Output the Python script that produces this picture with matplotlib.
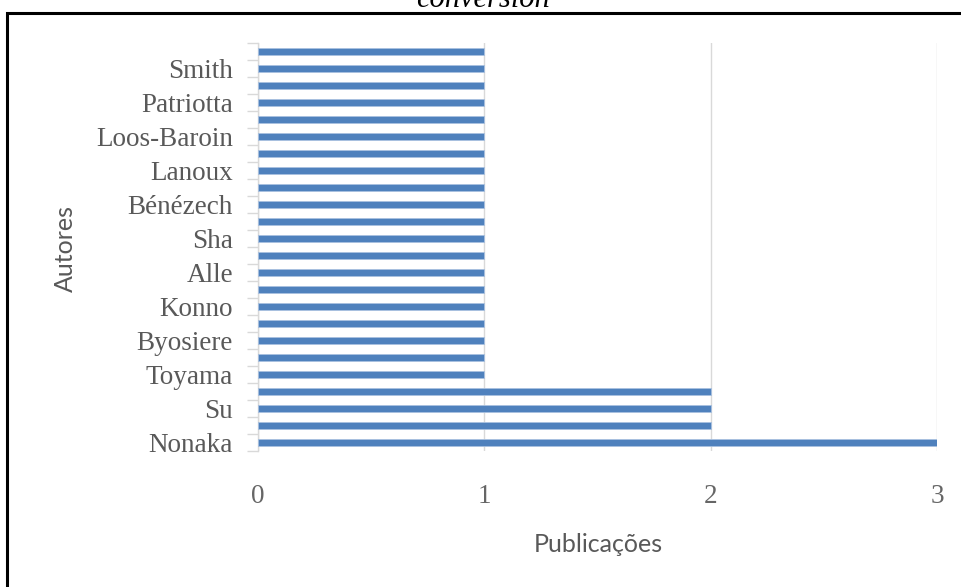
import matplotlib
matplotlib.use("Agg")
import matplotlib.pyplot as plt
from matplotlib.patches import Rectangle
import numpy as np

# Data (bottom to top)
authors = ["Nonaka", "", "Su", "", "Toyama", "", "Byosiere", "", "Konno", "",
           "Alle", "", "Sha", "", "Bénézech", "", "Lanoux", "", "Loos-Baroin", "",
           "Patriotta", "", "Smith", ""]
publications = [3, 2, 2, 2, 1, 1, 1, 1, 1, 1, 1, 1, 1, 1, 1, 1, 1, 1, 1, 1, 1, 1, 1, 1]
x_ticks = [0, 1, 2, 3]

W, H = 961, 587
fig = plt.figure(figsize=(W / 100, H / 100), dpi=100)
fig.patch.set_facecolor("white")

ax = fig.add_axes([258 / W, 1 - 451 / H, (937 - 258) / W, (451 - 43) / H])
pos = np.arange(len(authors))
ax.barh(pos, publications, height=0.38, color="#4F81BD", edgecolor="#A9C1E0",
        linewidth=0.6, zorder=3)

ax.set_xlim(0, 3)
ax.set_ylim(-0.5, len(authors) - 0.5)
ax.set_xticks(x_ticks)
ax.set_xticklabels([str(t) for t in x_ticks], family="Liberation Serif",
                   fontsize=19.5, color="#666666")
ax.tick_params(axis="x", length=0, pad=24)
ax.grid(axis="x", color="#D9D9D9", linewidth=1, zorder=0)

ax.set_yticks(pos)
ax.set_yticklabels(authors, family="Liberation Serif", fontsize=19.5, color="#595959")
ax.tick_params(axis="y", which="major", length=0, pad=18)
ax.set_yticks(np.arange(-0.5, len(authors), 1.0), minor=True)
ax.tick_params(axis="y", which="minor", length=8, color="#D9D9D9", width=1)

for s in ["top", "right", "bottom"]:
    ax.spines[s].set_visible(False)
ax.spines["left"].set_color("#D9D9D9")
ax.spines["left"].set_linewidth(1)

fig.text(598 / W, 1 - 545 / H, "Publicações", family="Lato", fontsize=18,
         color="#595959", ha="center", va="center")
fig.text(65 / W, 1 - 248 / H, "Autores", family="Lato", fontsize=18,
         color="#595959", ha="center", va="center", rotation=90)

# partially visible title at the very top
fig.text(483 / W, 1 - 7 / H, "conversion", family="Liberation Serif",
         style="italic", fontsize=22, color="black", ha="center", va="baseline")

# frame border
fig.patches.append(Rectangle((6.5 / W, -0.05), 1.0, 1 - 13 / H + 0.05,
                             transform=fig.transFigure, fill=False,
                             edgecolor="black", linewidth=2.2))

fig.savefig("out.png", dpi=100)
